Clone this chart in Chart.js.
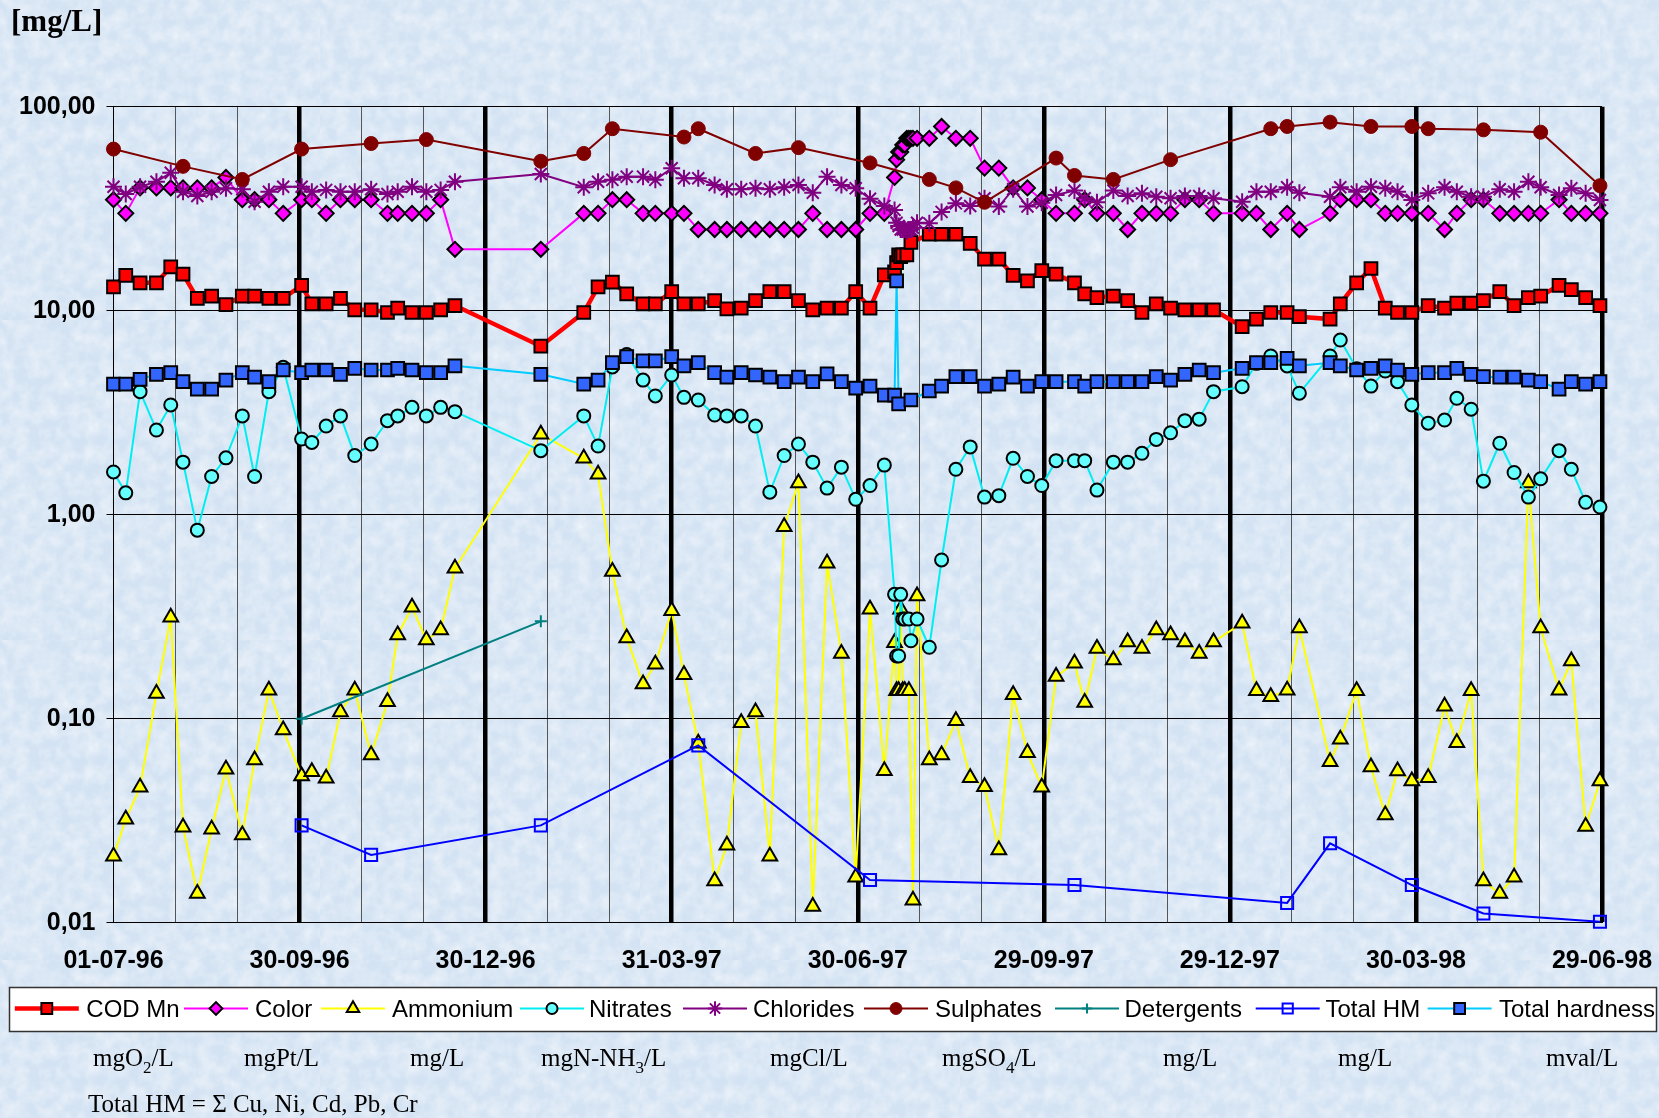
<!DOCTYPE html>
<html>
<head>
<meta charset="utf-8">
<title>Water quality 1996-1998</title>
<script src="https://cdn.jsdelivr.net/npm/chart.js@4.4.1/dist/chart.umd.min.js"></script>
<style>
  html, body { margin: 0; padding: 0; }
  body {
    width: 1659px; height: 1118px; position: relative; overflow: hidden;
    background-color: #d4e3f3;
    background-image: url("data:image/svg+xml;utf8,<svg xmlns='http://www.w3.org/2000/svg' width='320' height='320'><filter id='n' x='0' y='0'><feTurbulence type='fractalNoise' baseFrequency='0.07' numOctaves='3' seed='7' stitchTiles='stitch'/><feColorMatrix values='0 0 0 0 1  0 0 0 0 1  0 0 0 0 1  0 0 0 0.9 -0.3'/></filter><rect width='100%' height='100%' filter='url(%23n)'/></svg>");
  }
  #c { position: absolute; left: 0; top: 0; }
  .txt { position: absolute; white-space: nowrap; color: #000; font-family: "Liberation Serif", "Times New Roman", serif; }
  .unit { font-size: 25px; line-height: 25px; top: 1045px; }
  .sub { font-size: 17px; position: relative; top: 7px; }
</style>
</head>
<body>
<canvas id="c" width="1659" height="1118"></canvas>
<div class="txt" style="left:11px; top:5px; font-size:31px; line-height:31px; font-weight:bold;">[mg/L]</div>
<div class="txt unit" style="left:93px;">mgO<span class="sub">2</span>/L</div>
<div class="txt unit" style="left:244px;">mgPt/L</div>
<div class="txt unit" style="left:410px;">mg/L</div>
<div class="txt unit" style="left:541px;">mgN-NH<span class="sub">3</span>/L</div>
<div class="txt unit" style="left:770px;">mgCl/L</div>
<div class="txt unit" style="left:942px;">mgSO<span class="sub">4</span>/L</div>
<div class="txt unit" style="left:1163px;">mg/L</div>
<div class="txt unit" style="left:1338px;">mg/L</div>
<div class="txt unit" style="left:1546px;">mval/L</div>
<div class="txt" style="left:88px; top:1091px; font-size:25px; line-height:25px;">Total HM = &Sigma; Cu, Ni, Cd, Pb, Cr</div>
<script>
// ---- x axis: days counted from 01-07-96 ----
const xTickLabels = ['01-07-96', '30-09-96', '30-12-96', '31-03-97', '30-06-97',
                     '29-09-97', '29-12-97', '30-03-98', '29-06-98'];
const yTickValues = [0.01, 0.1, 1, 10, 100];

// Weekly sampling days (with an intensive run in July 1997)
const sampleDays = [
  0, 6, 13, 21, 28, 34, 41, 48, 55, 63, 69, 76, 83, 92, 97, 104, 111, 118, 126, 134, 139, 146, 153, 160, 167, 209,
  230, 237, 244, 251, 259, 265, 273, 279, 286, 294, 300, 307, 314, 321, 328, 335, 342, 349, 356, 363, 370, 377,
  382, 383, 384, 385, 386, 387, 388, 389, 390, 391, 393,
  399, 405, 412, 419, 426, 433, 440, 447, 454, 461, 470, 475, 481,
  489, 496, 503, 510, 517, 524, 531, 538, 552, 559, 566, 574, 580, 595, 600, 608, 615, 622, 628, 635, 643, 651,
  657, 664, 670, 678, 685, 692, 698, 707, 713, 720, 727
];

const codMn = [
  13.1, 14.9, 13.7, 13.7, 16.4, 15.1, 11.5, 11.8, 10.7, 11.8, 11.8, 11.5, 11.5, 13.3, 10.8, 10.8, 11.5, 10.1, 10.1, 9.8, 10.3, 9.8, 9.8, 10.1, 10.6, 6.7,
  9.8, 13.1, 13.8, 12.1, 10.8, 10.8, 12.4, 10.8, 10.8, 11.2, 10.2, 10.3, 11.2, 12.4, 12.4, 11.2, 10.1, 10.3, 10.3, 12.4, 10.3, 15.0,
  15.5, 17.2, 18.8, 18.4, 18.8, null, 18.8, null, 21.6, null, null,
  23.7, 23.7, 23.7, 21.4, 17.9, 17.9, 14.9, 14.0, 15.7, 15.1, 13.7, 12.1, 11.6,
  11.8, 11.2, 9.8, 10.8, 10.3, 10.1, 10.1, 10.1, 8.35, 9.1, 9.8, 9.8, 9.35, 9.1, 10.8, 13.7, 16.1, 10.3, 9.8, 9.8, 10.6, 10.3,
  10.9, 10.9, 11.2, 12.4, 10.6, 11.6, 11.8, 13.3, 12.7, 11.6, 10.6
];

const color = [
  35, 30, 40, 40, 40, 40, 40, 40, 45, 35, 35, 35, 30, 35, 35, 30, 35, 35, 35, 30, 30, 30, 30, 35, 20, 20,
  30, 30, 35, 35, 30, 30, 30, 30, 25, 25, 25, 25, 25, 25, 25, 25, 30, 25, 25, 25, 30, 30,
  45, 55, 60, 60, 65, 65, 70, 70, 70, 70, 70,
  70, 80, 70, 70, 50, 50, 40, 40, 35, 30, 30, 35, 30,
  30, 25, 30, 30, 30, 35, 35, 30, 30, 30, 25, 30, 25, 30, 35, 35, 35, 30, 30, 30, 30, 25,
  30, 35, 35, 30, 30, 30, 30, 35, 30, 30, 30
];

const ammonium = [
  0.0212, 0.0321, 0.0461, 0.133, 0.314, 0.0294, 0.0139, 0.0287, 0.0565, 0.0269, 0.0627, 0.138, 0.0881, 0.0524, 0.055, 0.051, 0.108, 0.138, 0.0664, 0.121, 0.257, 0.352, 0.243, 0.272, 0.546, 2.48,
  1.89, 1.58, 0.526, 0.249, 0.148, 0.185, 0.338, 0.164, 0.0757, 0.016, 0.024, 0.0955, 0.108, 0.0212, 0.873, 1.43, 0.012, 0.578, 0.209, 0.0167, 0.344, 0.0556,
  0.236, 0.137, 0.137, 0.344, 0.137, 0.137, null, 0.137, null, 0.0129, 0.40,
  0.0627, 0.0664, 0.0978, 0.0514, 0.0464, 0.0227, 0.131, 0.0681, 0.0461, 0.161, 0.187, 0.120, 0.221,
  0.194, 0.238, 0.221, 0.272, 0.257, 0.238, 0.209, 0.238, 0.294, 0.137, 0.128, 0.138, 0.278, 0.0615, 0.0793, 0.137, 0.058, 0.0337, 0.0554, 0.0495, 0.0514, 0.115,
  0.0763, 0.137, 0.016, 0.0139, 0.0167, 1.43, 0.278, 0.138, 0.192, 0.0296, 0.0495
];

const nitrates = [
  1.62, 1.28, 4.01, 2.60, 3.45, 1.81, 0.84, 1.54, 1.90, 3.05, 1.54, 4.01, 5.28, 2.35, 2.26, 2.72, 3.05, 1.95, 2.22, 2.89, 3.05, 3.36, 3.05, 3.36, 3.20, 2.06,
  3.05, 2.17, 5.3, 6.1, 4.57, 3.82, 4.84, 3.76, 3.65, 3.08, 3.05, 3.05, 2.72, 1.29, 1.95, 2.22, 1.81, 1.35, 1.71, 1.19, 1.39, 1.75,
  0.407, 0.203, 0.203, 0.407, 0.308, 0.308, null, 0.308, 0.241, null, 0.308,
  0.224, 0.60, 1.67, 2.15, 1.22, 1.24, 1.89, 1.54, 1.39, 1.84, 1.84, 1.84, 1.32,
  1.81, 1.81, 2.0, 2.34, 2.52, 2.89, 2.94, 4.01, 4.24, 5.52, 6.0, 5.36, 3.94, 6.0, 7.18, 5.2, 4.27, 5.06, 4.49, 3.45, 2.81, 2.91,
  3.72, 3.29, 1.46, 2.24, 1.61, 1.22, 1.50, 2.06, 1.67, 1.15, 1.09
];

const chlorides = [
  40.5, 37.3, 40.5, 42.9, 47.4, 38.3, 36.5, 38.3, 39.8, 39.4, 34.2, 38.3, 40.5, 40.5, 38.3, 39.1, 38.3, 38.3, 39.4, 37.3, 38.3, 40.5, 38.3, 39.1, 42.9, 46.8,
  40.3, 42.9, 43.8, 45.4, 45.4, 43.8, 49.9, 44.6, 44.6, 41.3, 39.4, 39.4, 39.8, 39.4, 40.3, 41.3, 37.9, 45.4, 41.3, 39.8, 35.4, 32.6,
  31.2, 27, 26, 25, 25, 25, 24.5, 25, 25, 25.5, 27,
  26.8, 30.5, 33.6, 32.6, 35.6, 32.4, 39.4, 32.4, 33.8, 36.9, 38.8, 35.6, 34,
  38.8, 36.5, 37.6, 36.2, 35.6, 36.5, 36.5, 35.6, 34.2, 38.3, 38.3, 40.3, 37.9, 36.2, 40.3, 38.3, 40.5, 39.8, 38.3, 34.9, 37.6, 40.3,
  38.3, 36.2, 36.2, 39.4, 38.3, 42.9, 40.3, 36.9, 39.8, 37.6, 34.9
];

const totalHardness = [
  4.37, 4.37, 4.61, 4.88, 4.97, 4.49, 4.13, 4.13, 4.57, 4.97, 4.72, 4.49, 5.12, 4.97, 5.12, 5.12, 4.88, 5.22, 5.12, 5.12, 5.22, 5.12, 4.97, 4.97, 5.37, 4.88,
  4.37, 4.57, 5.56, 5.95, 5.67, 5.67, 5.95, 5.36, 5.56, 4.97, 4.72, 4.97, 4.84, 4.72, 4.49, 4.72, 4.49, 4.90, 4.49, 4.17, 4.27, 3.86,
  3.86, 14.0, 3.49, null, null, null, null, null, 3.65, null, null,
  4.04, 4.27, 4.75, 4.75, 4.27, 4.37, 4.72, 4.27, 4.49, 4.49, 4.49, 4.27, 4.49,
  4.49, 4.49, 4.49, 4.75, 4.57, 4.88, 5.12, 4.97, 5.22, 5.56, 5.56, 5.84, 5.37, 5.56, 5.37, 5.12, 5.22, 5.37, 5.12, 4.88, 4.97, 4.97,
  5.22, 4.88, 4.75, 4.72, 4.72, 4.57, 4.49, 4.13, 4.49, 4.37, 4.49
];

// Monthly / occasional parameters
const sulphateDays = [0, 34, 63, 92, 126, 153, 209, 230, 244, 279, 286, 314, 335, 370, 399, 412, 426, 461, 470, 489, 517, 566, 574, 595, 615, 635, 643, 670, 698, 727];
const sulphates    = [62, 51, 44, 62, 66, 69, 54, 59, 78, 71, 78, 59, 63, 53, 44, 40, 34, 56, 46, 44, 55, 78, 80, 84, 80, 80, 78, 77, 75, 41];

const detergentDays = [92, 209];
const detergents    = [0.10, 0.30];

const heavyMetalDays = [92, 126, 209, 286, 370, 470, 574, 595, 635, 670, 727];
const totalHM        = [0.030, 0.0215, 0.030, 0.074, 0.0162, 0.0153, 0.0125, 0.0245, 0.0153, 0.0111, 0.0101];

// ---- helpers ----
const toPoints = (days, vals) =>
  days.map((d, i) => ({ x: d, y: vals[i] })).filter(p => p.y !== null && p.y !== undefined);

const QUARTER = 91;            // major grid step (days)
const MINOR = QUARTER / 3;     // minor grid step (days)
const X_MAX = 728;

function line(label, points, s) {
  return Object.assign({
    label: label,
    data: points,
    tension: 0,
    fill: false,
    clip: false,
    borderWidth: 2,
    pointBorderWidth: 2,
    pointHoverRadius: s.pointRadius,
  }, s);
}

const datasets = [
  line('COD Mn', toPoints(sampleDays, codMn), {
    borderColor: '#ff0000', borderWidth: 4.5, pointStyle: 'rect', pointRadius: 9,
    pointBackgroundColor: '#ff0000', pointBorderColor: '#000000' }),
  line('Color', toPoints(sampleDays, color), {
    borderColor: '#ff00ff', pointStyle: 'rectRot', pointRadius: 7.5,
    pointBackgroundColor: '#ff00ff', pointBorderColor: '#000000' }),
  line('Ammonium', toPoints(sampleDays, ammonium), {
    borderColor: '#ffff00', pointStyle: 'triangle', pointRadius: 8.5,
    pointBackgroundColor: '#ffff00', pointBorderColor: '#000000' }),
  line('Nitrates', toPoints(sampleDays, nitrates), {
    borderColor: '#00eef2', pointStyle: 'circle', pointRadius: 6.5,
    pointBackgroundColor: '#66ffff', pointBorderColor: '#000000' }),
  line('Chlorides', toPoints(sampleDays, chlorides), {
    borderColor: '#800080', pointStyle: 'star', pointRadius: 8.5,
    pointBackgroundColor: '#800080', pointBorderColor: '#800080' }),
  line('Sulphates', toPoints(sulphateDays, sulphates), {
    borderColor: '#800000', pointStyle: 'circle', pointRadius: 7,
    pointBackgroundColor: '#800000', pointBorderColor: '#800000', pointBorderWidth: 1 }),
  line('Detergents', toPoints(detergentDays, detergents), {
    borderColor: '#008080', pointStyle: 'cross', pointRadius: 6,
    pointBackgroundColor: '#008080', pointBorderColor: '#008080' }),
  line('Total HM', toPoints(heavyMetalDays, totalHM), {
    borderColor: '#0000ff', pointStyle: 'rect', pointRadius: 8.5,
    pointBackgroundColor: 'rgba(0,0,0,0)', pointBorderColor: '#0000ff' }),
  line('Total hardness', toPoints(sampleDays, totalHardness), {
    borderColor: '#00ccff', pointStyle: 'rect', pointRadius: 9,
    pointBackgroundColor: '#3366ff', pointBorderColor: '#000000' }),
];
// later series are painted over earlier ones
datasets.forEach((ds, i) => { ds.order = datasets.length - i; });

// ---- legend drawn inside a boxed strip under the axis ----
const legendStrip = {
  id: 'legendStrip',
  afterDraw(chart) {
    const c = chart.ctx;
    const box = { x: 9.5, y: 987.5, w: 1647, h: 44 };
    const lineX = [14.8, 184, 321, 520, 683, 864, 1055, 1255.7, 1427.6];
    const textX = [86.3, 255, 392, 589, 753, 935, 1124.5, 1325.5, 1499];
    const cy = 1008.5;
    c.save();
    c.fillStyle = '#ffffff';
    c.fillRect(box.x, box.y, box.w, box.h);
    c.beginPath();
    c.rect(box.x, box.y, box.w, box.h);
    c.clip();
    chart.data.datasets.forEach((ds, i) => {
      c.strokeStyle = ds.borderColor;
      c.lineWidth = ds.borderWidth;
      c.beginPath();
      c.moveTo(lineX[i], cy);
      c.lineTo(lineX[i] + 64, cy);
      c.stroke();
      c.fillStyle = ds.pointBackgroundColor;
      c.strokeStyle = ds.pointBorderColor;
      c.lineWidth = ds.pointBorderWidth;
      Chart.helpers.drawPoint(c, {
        pointStyle: ds.pointStyle, radius: ds.pointRadius * 0.85, rotation: 0, borderWidth: ds.pointBorderWidth
      }, lineX[i] + 32, cy);
      c.fillStyle = '#000';
      c.font = '24px "Liberation Sans", Arial, sans-serif';
      c.textBaseline = 'alphabetic';
      c.textAlign = 'left';
      c.fillText(ds.label, textX[i], 1016.5);
    });
    c.restore();
    c.save();
    c.strokeStyle = '#333';
    c.lineWidth = 1.5;
    c.strokeRect(box.x, box.y, box.w, box.h);
    c.restore();
  }
};

const tickFont = { family: '"Liberation Sans", Arial, sans-serif', size: 25, weight: 'bold' };

new Chart(document.getElementById('c'), {
  type: 'line',
  data: { datasets: datasets },
  plugins: [legendStrip],
  options: {
    responsive: false,
    animation: false,
    devicePixelRatio: 1,
    events: [],
    layout: { padding: { left: 0, top: 106.7, right: 1659 - 1602, bottom: 1118 - 922.7 - 60 } },
    plugins: { legend: { display: false }, tooltip: { enabled: false } },
    scales: {
      x: {
        type: 'linear',
        min: 0,
        max: X_MAX,
        afterBuildTicks(scale) {
          const t = [];
          for (let i = 0; i <= 24; i++) t.push({ value: i * MINOR });
          scale.ticks = t;
        },
        afterFit(scale) {
          scale.height = 60;
          scale.paddingLeft = 0;
          scale.paddingRight = 0;
        },
        ticks: {
          autoSkip: false, maxRotation: 0, minRotation: 0,
          padding: 23,
          color: '#000',
          font: tickFont,
          callback: (v, i) => (i % 3 === 0 ? xTickLabels[i / 3] : '')
        },
        grid: {
          drawTicks: false,
          color: ctx => (ctx.index % 3 === 0 ? '#000000' : '#555555'),
          lineWidth: ctx => (ctx.index % 3 === 0 && ctx.index > 0 ? 4.5 : 1)
        },
        border: { display: true, color: '#000', width: 1 }
      },
      y: {
        type: 'logarithmic',
        min: 0.01,
        max: 100,
        afterBuildTicks(scale) { scale.ticks = yTickValues.map(v => ({ value: v, major: true })); },
        afterFit(scale) {
          scale.width = 113.5;
          scale.paddingTop = 0;
          scale.paddingBottom = 0;
        },
        ticks: {
          padding: 11,
          color: '#000',
          font: tickFont,
          callback: v => v.toFixed(2).replace('.', ',')
        },
        grid: { color: '#000', lineWidth: 1, drawTicks: true, tickLength: 7, tickColor: '#000' },
        border: { display: true, color: '#000', width: 1 }
      }
    }
  }
});
</script>
</body>
</html>
